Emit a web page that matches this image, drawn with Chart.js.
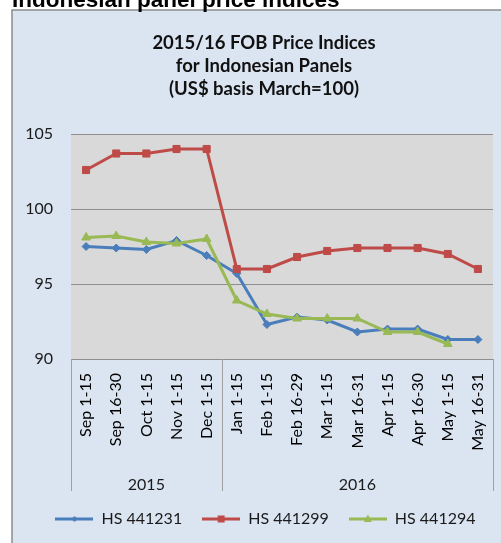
<!DOCTYPE html>
<html>
<head>
<meta charset="utf-8">
<script src="https://cdn.jsdelivr.net/npm/chart.js@4"></script>
<style>
  html, body { margin: 0; padding: 0; background: #fff; overflow: hidden; }
  #wrap { width: 501px; height: 543px; overflow: hidden; }
</style>
</head>
<body>
<div id="wrap"><canvas id="priceChart" width="527" height="543"></canvas></div>
<script>
// chart data
let categories = ['Sep 1-15', 'Sep 16-30', 'Oct 1-15', 'Nov 1-15', 'Dec 1-15', 'Jan 1-15', 'Feb 1-15',
        'Feb 16-29', 'Mar 1-15', 'Mar 16-31', 'Apr 1-15', 'Apr 16-30', 'May 1-15', 'May 16-31'],
    hs441231 = [97.5, 97.4, 97.3, 97.9, 96.9, 95.7, 92.3, 92.8, 92.6, 91.8, 92.0, 92.0, 91.3, 91.3],
    hs441299 = [102.6, 103.7, 103.7, 104.0, 104.0, 96.0, 96.0, 96.8, 97.2, 97.4, 97.4, 97.4, 97.0, 96.0],
    hs441294 = [98.1, 98.2, 97.8, 97.7, 98.0, 93.9, 93.0, 92.7, 92.7, 92.7, 91.8, 91.8, 91.0, null],
    seriesNames = ['HS 441231', 'HS 441299', 'HS 441294'],
    yearLabels = ['2015', '2016'],
    yearCounts = [5, 9],
    yTicks = [90, 95, 100, 105],
    titleLines = ['2015/16 FOB Price Indices', 'for Indonesian Panels', '(US$ basis March=100)'],
    headerText = 'Indonesian panel price indices';

let colors = ['#4a7ebb', '#be4b48', '#98b954'],
    markers = ['rectRot', 'rect', 'triangle'],
    markerSizes = [4, 5, 5];

function legendIcon(color, style) {
    let c = document.createElement('canvas');
    c.width = 38;
    c.height = 12;
    let g = c.getContext('2d');
    g.strokeStyle = color;
    g.fillStyle = color;
    g.lineWidth = 3;
    g.beginPath();
    g.moveTo(0, 6);
    g.lineTo(38, 6);
    g.stroke();
    g.beginPath();
    if (style == 'rect') {
        g.rect(15.5, 2.5, 7, 7);
    } else if (style == 'triangle') {
        g.moveTo(19, 1.5); g.lineTo(23, 9); g.lineTo(15, 9);
    } else {
        g.moveTo(19, 3); g.lineTo(22, 6); g.lineTo(19, 9); g.lineTo(16, 6);
    }
    g.closePath();
    g.fill();
    return c;
}
let legendIcons = colors.map((c, i) => legendIcon(c, markers[i]));

const panelBackground = {
    id: 'panelBackground',
    beforeDraw(chart) {
        let ctx = chart.ctx, a = chart.chartArea;
        ctx.save();
        ctx.fillStyle = '#fff';
        ctx.fillRect(0, 0, chart.width, chart.height);
        ctx.fillStyle = '#dbe5f1';
        ctx.fillRect(12, 10, chart.width, chart.height);
        ctx.strokeStyle = '#8c8c8c';
        ctx.lineWidth = 1.5;
        ctx.strokeRect(12, 10, chart.width + 20, chart.height + 20);
        ctx.fillStyle = '#d9d9d9';
        ctx.fillRect(a.left, a.top, a.right - a.left, a.bottom - a.top);

        ctx.fillStyle = '#000';
        ctx.font = 'bold 22.5px "Liberation Sans", Arial, sans-serif';
        ctx.textAlign = 'left';
        ctx.textBaseline = 'alphabetic';
        ctx.fillText(headerText, 12, 6.5);

        ctx.font = 'bold 18.5px Lato, sans-serif';
        ctx.textAlign = 'center';
        ctx.fillStyle = '#111';
        titleLines.forEach((t, i) => ctx.fillText(t, 264, 49 + i * 23.2));
        ctx.restore();
    },
    afterDraw(chart) {
        let ctx = chart.ctx, a = chart.chartArea, x = chart.scales.x;
        let half = (x.getPixelForTick(1) - x.getPixelForTick(0)) / 2;
        ctx.save();
        ctx.strokeStyle = '#a0a0a0';
        ctx.lineWidth = 1;
        ctx.fillStyle = '#1a1a1a';
        ctx.font = '16px Lato, sans-serif';
        ctx.textAlign = 'center';
        let start = 0;
        let edges = [a.left];
        yearLabels.forEach((lab, i) => {
            let end = start + yearCounts[i] - 1;
            let mid = (x.getPixelForTick(start) + x.getPixelForTick(end)) / 2;
            ctx.fillText(lab, mid, a.bottom + 126);
            edges.push(x.getPixelForTick(end) + half);
            start = end + 1;
        });
        edges.forEach(e => {
            let px = Math.round(e) + 0.5;
            ctx.beginPath();
            ctx.moveTo(px, a.bottom);
            ctx.lineTo(px, a.bottom + 132);
            ctx.stroke();
        });
        ctx.restore();
    }
};

let datasets = [hs441231, hs441299, hs441294].map((vals, i) => ({
    label: seriesNames[i],
    data: vals,
    borderColor: colors[i],
    backgroundColor: colors[i],
    borderWidth: 3,
    pointStyle: markers[i],
    pointRadius: markerSizes[i],
    pointBorderWidth: 1,
    tension: 0,
    order: 2 - i
}));

new Chart(document.getElementById('priceChart'), {
    type: 'line',
    data: { labels: categories, datasets: datasets },
    options: {
        responsive: false,
        animation: false,
        devicePixelRatio: 1,
        layout: { padding: { left: 12, right: 8, top: 134, bottom: 6 } },
        plugins: {
            title: { display: false },
            tooltip: { enabled: false },
            legend: {
                position: 'bottom',
                labels: {
                    usePointStyle: true,
                    pointStyleWidth: 38,
                    padding: 20,
                    color: '#1a1a1a',
                    font: { family: 'Lato', size: 16 },
                    sort: (a, b) => a.datasetIndex - b.datasetIndex,
                    generateLabels: function (chart) {
                        let items = Chart.defaults.plugins.legend.labels.generateLabels(chart);
                        items.forEach(it => { it.pointStyle = legendIcons[it.datasetIndex]; });
                        return items;
                    }
                }
            }
        },
        scales: {
            x: {
                offset: true,
                grid: { display: false, drawTicks: false },
                border: { display: false },
                ticks: {
                    autoSkip: false,
                    minRotation: 90,
                    maxRotation: 90,
                    padding: 14,
                    color: '#000',
                    font: { family: 'Lato', size: 16 }
                },
                afterFit: function (scale) { scale.height = 132; }
            },
            y: {
                min: 90,
                max: 105,
                grid: { color: '#8e8e8e', lineWidth: 1, drawTicks: false },
                border: { display: false },
                afterBuildTicks: function (scale) { scale.ticks = yTicks.map(v => ({ value: v })); },
                ticks: {
                    padding: 18,
                    color: '#1a1a1a',
                    font: { family: 'Lato', size: 16 }
                },
                afterFit: function (scale) { scale.width = 59; }
            },
            // empty right-hand axis: keeps the plot edge at the frame while the legend row centres under the title
            spacer: {
                type: 'linear',
                position: 'right',
                display: true,
                grid: { display: false, drawTicks: false },
                border: { display: false },
                ticks: { display: false },
                afterFit: function (scale) { scale.width = 26; }
            }
        }
    },
    plugins: [panelBackground]
});
</script>
</body>
</html>
